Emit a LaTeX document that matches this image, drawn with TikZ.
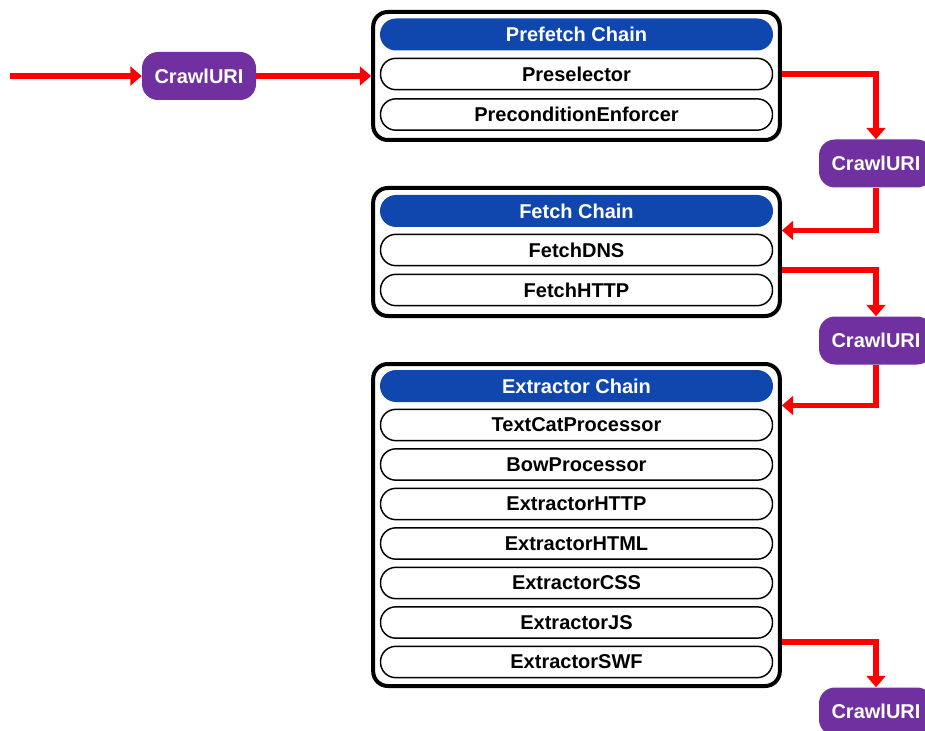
\documentclass[tikz,border=0pt]{standalone}
\usepackage{fontspec}
\setmainfont{Liberation Sans}
\usetikzlibrary{arrows.meta,calc}
\definecolor{chainblue}{HTML}{1047AF}
\definecolor{uripurple}{HTML}{7030A0}
\definecolor{flowred}{HTML}{FF0000}
\tikzset{
  chainbox/.style={draw=black, line width=3pt, rounded corners=11pt, fill=white,
    minimum width=305pt, inner sep=0pt},
  chainhead/.style={fill=chainblue, text=white, rounded corners=12pt,
    minimum width=294.75pt, minimum height=24pt, inner sep=0pt,
    font=\fontsize{15}{17}\selectfont\bfseries},
  procitem/.style={draw=black, line width=1.1pt, fill=white, rounded corners=11.5pt,
    minimum width=294pt, minimum height=23.5pt, inner sep=0pt,
    font=\fontsize{15}{17}\selectfont\bfseries},
  uri/.style={fill=uripurple, text=white, rounded corners=12pt,
    minimum width=85.5pt, minimum height=36pt, inner sep=0pt,
    font=\fontsize{15}{17}\selectfont\bfseries},
  flow/.style={draw=flowred, line width=4.2pt, line join=miter,
    -{Triangle[length=8.5pt,width=14pt]}},
}
\begin{document}
\begin{tikzpicture}[x=0.75pt,y=-0.75pt]
\useasboundingbox (0,0) rectangle (925,731);
\clip (0,0) rectangle (925,731);

% Prefetch chain
\node[chainbox, minimum height=96pt] (pre) at (576.5,76) {};
\node[chainhead] (prehead) at (576.5,34.5) {Prefetch Chain};
\node[procitem] (presel) at (576.5,74) {Preselector};
\node[procitem] (precond) at (576.5,114.5) {PreconditionEnforcer};

% Fetch chain
\node[chainbox, minimum height=96pt] (fetch) at (576.5,252) {};
\node[chainhead] (fetchhead) at (576.5,211) {Fetch Chain};
\node[procitem] (fdns) at (576.5,250) {FetchDNS};
\node[procitem] (fhttp) at (576.5,290) {FetchHTTP};

% Extractor chain
\node[chainbox, minimum height=241.5pt] (extr) at (576.5,525) {};
\node[chainhead] (extrhead) at (576.5,386) {Extractor Chain};
\node[procitem] (textcat) at (576.5,425) {TextCatProcessor};
\node[procitem] (bow) at (576.5,464.5) {BowProcessor};
\node[procitem] (xhttp) at (576.5,504) {ExtractorHTTP};
\node[procitem] (xhtml) at (576.5,543.5) {ExtractorHTML};
\node[procitem] (xcss) at (576.5,583) {ExtractorCSS};
\node[procitem] (xjs) at (576.5,622.5) {ExtractorJS};
\node[procitem] (xswf) at (576.5,662) {ExtractorSWF};

% CrawlURI tokens
\node[uri] (uri0) at (199,76) {CrawlURI};
\node[uri] (uri1) at (876,163.5) {CrawlURI};
\node[uri] (uri2) at (876,340.5) {CrawlURI};
\node[uri] (uri3) at (876,711.5) {CrawlURI};
\coordinate (start) at (10,76);

% Flow of the CrawlURI through the chains
\draw[flow] (start) -- (uri0.west);
\draw[flow] (uri0.east) -- (pre.west |- uri0.east);
\draw[flow] (pre.east |- presel.east) -| (uri1.north);
\draw[flow] (uri1.south) |- (fetch.east |- {$(fetchhead.south)!0.5!(fdns.north)$});
\draw[flow] (fetch.east |- {$(fdns.south)!0.5!(fhttp.north)$}) -| (uri2.north);
\draw[flow] (uri2.south) |- (extr.east |- {$(extrhead.south)!0.5!(textcat.north)$});
\draw[flow] (extr.east |- {$(xjs.south)!0.5!(xswf.north)$}) -| (uri3.north);
\end{tikzpicture}
\end{document}
